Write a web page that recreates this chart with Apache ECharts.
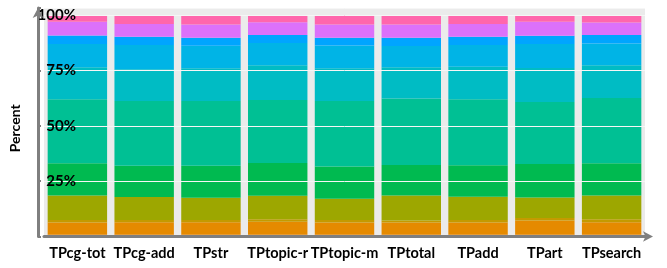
<!DOCTYPE html>
<html style="height: 100%;">
<head>
  <meta charset="utf-8">
  <title>Percent by TP</title>
  <script type="text/javascript" src="https://cdn.jsdelivr.net/npm/echarts@6/dist/echarts.min.js"></script>
</head>
<body style="height: 100%; margin: 0; background: #fff;">
  <div id="container" style="width: 667px; height: 268px;"></div>
  <script type="text/javascript">
    // categories
    var categories = ['TPcg-tot', 'TPcg-add', 'TPstr', 'TPtopic-r', 'TPtopic-m', 'TPtotal', 'TPadd', 'TPart', 'TPsearch'];
    var yTicks = [25, 50, 75, 100];

    // stacked segments, bottom to top (percent)
    var s01 = [0.75, 0.75, 0.75, 0.75, 0.75, 0.75, 0.75, 0.75, 0.75];
    var s02 = [5.55, 5.65, 5.65, 5.95, 5.55, 5.55, 5.55, 6.45, 5.65];
    var s03 = [1.2, 1.1, 1.1, 1.1, 1.2, 0.9, 1.2, 1.2, 1.4];
    var s04 = [11.0, 10.3, 10.0, 10.6, 9.6, 11.3, 10.4, 9.2, 10.7];
    var s05 = [14.6, 14.2, 14.4, 14.8, 14.5, 13.8, 14.3, 15.2, 14.6];
    var s06 = [28.9, 29.2, 29.3, 28.5, 29.6, 30.0, 29.8, 28.0, 29.5];
    var s07 = [14.4, 14.3, 14.8, 15.6, 14.8, 14.1, 14.7, 15.3, 14.7];
    var s08 = [10.5, 11.0, 10.2, 10.1, 10.3, 9.6, 9.8, 10.8, 9.9];
    var s09 = [3.9, 3.7, 3.6, 3.6, 3.5, 3.8, 3.7, 3.8, 3.8];
    var s10 = [6.2, 5.8, 5.9, 5.8, 5.9, 5.9, 5.8, 6.3, 5.7];
    var s11 = [3.0, 4.0, 4.3, 3.2, 4.3, 4.3, 4.0, 3.0, 3.3];

    var segments = [s01, s02, s03, s04, s05, s06, s07, s08, s09, s10, s11];
    var colors = ['#F8766D', '#E58A00', '#C49A00', '#9DA700', '#00BA50', '#00C094',
                  '#00BCC4', '#00B4E6', '#00A5FF', '#DC71FA', '#FF66AC'];

    var dom = document.getElementById('container');
    var myChart = echarts.init(dom);

    var series = [];
    for (var i = 0; i < segments.length; i++) {
      series.push({
        type: 'bar',
        stack: 'total',
        name: 'S' + (i + 1),
        data: segments[i],
        barCategoryGap: '11%',
        itemStyle: { color: colors[i] },
        emphasis: { disabled: true }
      });
    }

    var axisGray = '#7F7F7F';
    var font = 'Lato, "Open Sans", sans-serif';

    var option = {
      animation: false,
      grid: {
        left: 40,
        right: 22,
        top: 8,
        bottom: 31.5,
        show: true,
        backgroundColor: '#EBEBEB',
        borderWidth: 0
      },
      xAxis: {
        type: 'category',
        data: categories,
        z: 10,
        axisLine: {
          show: true,
          lineStyle: { color: axisGray, width: 3 },
          symbol: ['none', 'arrow'],
          symbolSize: [8, 10],
          symbolOffset: [0, 8]
        },
        axisTick: { show: false },
        axisLabel: {
          interval: 0,
          color: '#000',
          fontFamily: font,
          fontWeight: 'bold',
          fontSize: 14.5,
          margin: 9
        },
        splitLine: { show: false }
      },
      yAxis: {
        type: 'value',
        min: 0,
        max: 103.2,
        interval: 25,
        offset: 6,
        z: 10,
        name: 'Percent',
        nameLocation: 'middle',
        nameGap: 16,
        nameRotate: 90,
        nameTextStyle: {
          color: '#000',
          fontFamily: font,
          fontWeight: 'bold',
          fontSize: 14,
          padding: [0, 12, 0, 0]
        },
        axisLine: {
          show: true,
          lineStyle: { color: axisGray, width: 3 },
          symbol: ['none', 'arrow'],
          symbolSize: [8, 10]
        },
        axisTick: { show: true, inside: true, length: 3, lineStyle: { color: axisGray, width: 2 } },
        axisLabel: {
          inside: true,
          align: 'right',
          margin: 38,
          color: '#000',
          fontFamily: font,
          fontWeight: 'bold',
          fontSize: 15,
          formatter: function (v) {
            return yTicks.indexOf(v) >= 0 ? v + '%' : '';
          }
        },
        splitLine: { show: true, lineStyle: { color: '#F6F6F6', width: 1 } }
      },
      series: series
    };

    myChart.setOption(option);
    window.onresize = function () {
      myChart.resize();
    };
  </script>
</body>
</html>
